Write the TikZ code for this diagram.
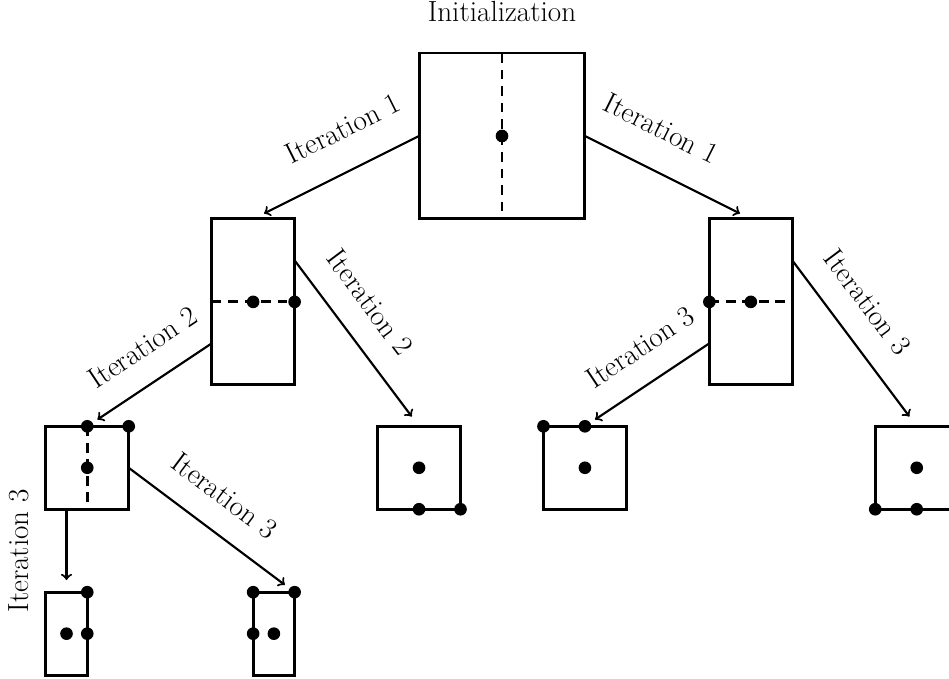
\documentclass[tikz,border=0pt]{standalone}
\usetikzlibrary{positioning}

\begin{document}
\begin{tikzpicture}[x=0.75cm, y=0.75cm]
            \tikzstyle{box}=[draw,rectangle,line width=1.5pt,inner sep=0pt,outer sep=0pt]
            \tikzstyle{dot}=[circle,fill=black,inner sep=0pt,minimum size=6.5pt]
            \tikzstyle{split}=[line width=1.5pt,dash pattern=on 5pt off 3.5pt]
            \tikzstyle{iter}=[->,line width=1.1pt,shorten >=2.2mm]
            \tikzstyle{big}=[font=\fontsize{15}{18}\selectfont]
            \tikzstyle{lbl}=[big,sloped,above=9pt,pos=0.4]
            \useasboundingbox (-12.104,-13.092) rectangle (10.778,3.279);

            \node[box,minimum width=3cm,minimum height=3cm] (B_1) at (0,0) {};
            \node[box,minimum width=1.5cm,minimum height=3cm] (B_2) at (-6,-4) {};
            \node[box,minimum width=1.5cm,minimum height=3cm] (B_3) at (6,-4) {};
            \node[box,minimum width=1.5cm,minimum height=1.5cm] (B_4) at (-10,-8) {};
            \node[box,minimum width=1.5cm,minimum height=1.5cm] (B_5) at (-2,-8) {};
            \node[box,minimum width=1.5cm,minimum height=1.5cm] (B_6) at (2,-8) {};
            \node[box,minimum width=1.5cm,minimum height=1.5cm] (B_7) at (10,-8) {};
            \node[box,minimum width=0.75cm,minimum height=1.5cm] (B_8) at (-10.5,-12) {};
            \node[box,minimum width=0.75cm,minimum height=1.5cm] (B_9) at (-5.5,-12) {};
            \node[big,above=4.5mm of B_1] (init) {Initialization};

            \draw[split] (B_1.north) -- (B_1.south);
            \draw[split] (B_2.west) -- (B_2.east);
            \draw[split] (B_3.west) -- (B_3.east);
            \draw[split] (B_4.north) -- (B_4.south);

            \draw[iter] (B_1.west) -- (B_2.north) node[lbl,pos=0.35,above=12pt] {Iteration 1};
            \draw[iter] (B_1.east) -- (B_3.north) node[lbl,pos=0.35,above=12pt] {Iteration 1};
            \draw[iter] (B_2.225) -- (B_4.north) node[lbl] {Iteration 2};
            \draw[iter] (B_2.45) -- (B_5.north) node[lbl,pos=0.38] {Iteration 2};
            \draw[iter] (B_3.225) -- (B_6.north) node[lbl] {Iteration 3};
            \draw[iter] (B_3.45) -- (B_7.north) node[lbl,pos=0.38] {Iteration 3};
            \draw[iter] (B_8.north |- B_4.south) -- (B_8.north) node[midway,big,rotate=90,anchor=south,yshift=0.55cm] {Iteration 3};
            \draw[iter] (B_4.east) -- (B_9.north east) node[lbl,pos=0.45] {Iteration 3};

            % split points
            \foreach \p [count=\i] in {(0,0),(-6,-4),(-5,-4),(5,-4),(6,-4),
                (-10,-7),(-9,-7),(-10,-8),(-2,-8),(-2,-9),(-1,-9),
                (1,-7),(2,-7),(2,-8),(10,-8),(9,-9),(10,-9),
                (-10,-11),(-10.5,-12),(-10,-12),
                (-6,-11),(-5,-11),(-6,-12),(-5.5,-12)}
                \node[dot] (P_\i) at \p {};
        \end{tikzpicture}
\end{document}
